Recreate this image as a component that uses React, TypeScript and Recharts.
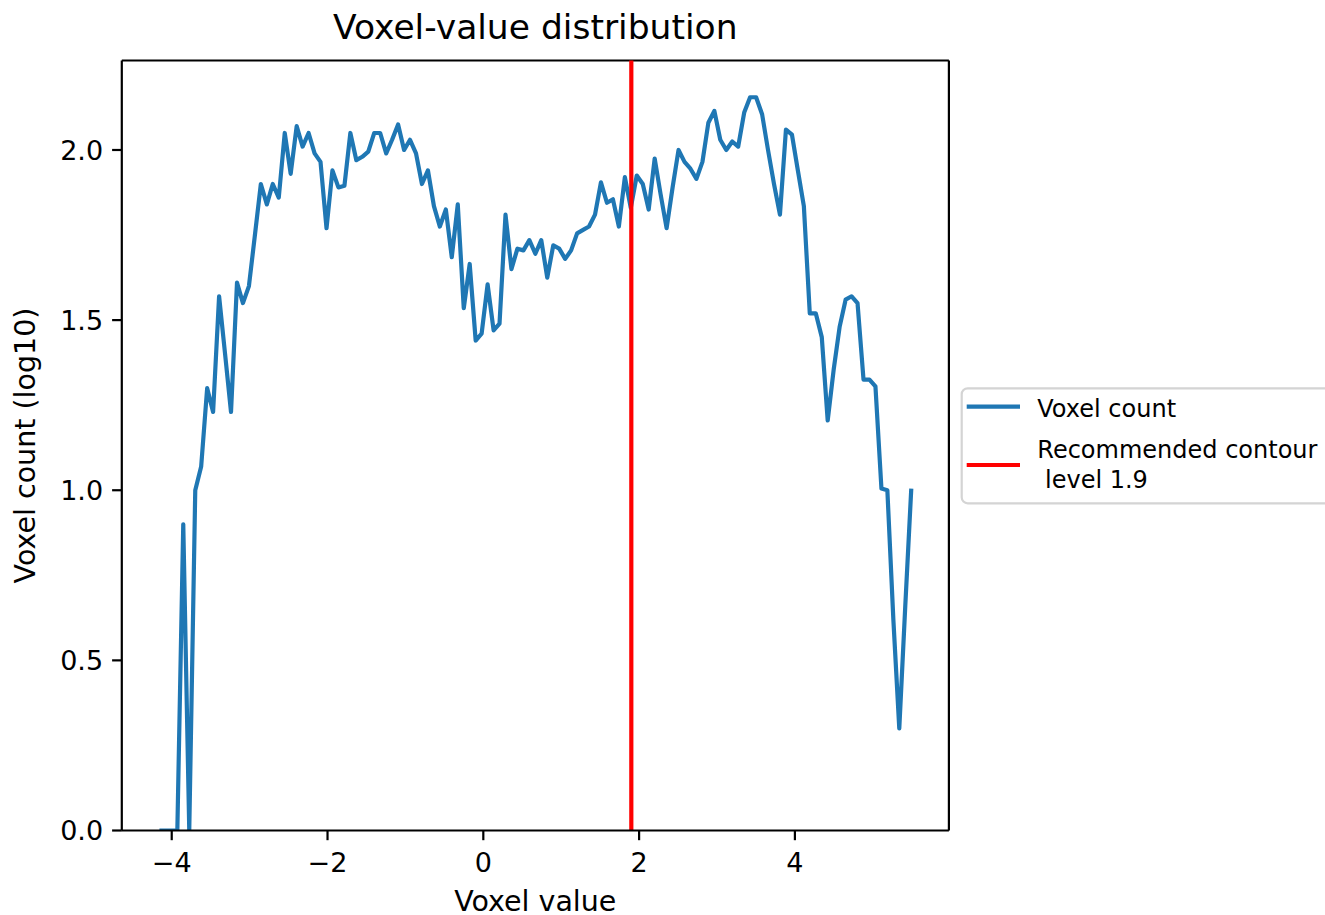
import React from 'react';
import { LineChart, Line, XAxis, YAxis, ReferenceLine } from 'recharts';

// Bin centres (voxel value)
const voxelValues = [
  -4.158, -4.081, -4.005, -3.928, -3.852, -3.775, -3.698, -3.622, -3.545, -3.469,
  -3.392, -3.315, -3.239, -3.162, -3.086, -3.009, -2.932, -2.856, -2.779, -2.703,
  -2.626, -2.549, -2.473, -2.396, -2.320, -2.243, -2.166, -2.090, -2.013, -1.937,
  -1.860, -1.783, -1.707, -1.630, -1.554, -1.477, -1.400, -1.324, -1.247, -1.171,
  -1.094, -1.017, -0.941, -0.864, -0.788, -0.711, -0.634, -0.558, -0.481, -0.405,
  -0.328, -0.251, -0.175, -0.098, -0.022, 0.055, 0.132, 0.208, 0.285, 0.361,
  0.438, 0.515, 0.591, 0.668, 0.744, 0.821, 0.898, 0.974, 1.051, 1.127,
  1.204, 1.281, 1.357, 1.434, 1.510, 1.587, 1.664, 1.740, 1.817, 1.893,
  1.970, 2.047, 2.123, 2.200, 2.276, 2.353, 2.430, 2.506, 2.583, 2.659,
  2.736, 2.813, 2.889, 2.966, 3.042, 3.119, 3.196, 3.272, 3.349, 3.425,
  3.502, 3.579, 3.655, 3.732, 3.808, 3.885, 3.962, 4.038, 4.115, 4.191,
  4.268, 4.345, 4.421, 4.498, 4.574, 4.651, 4.728, 4.804, 4.881, 4.957,
  5.034, 5.111, 5.187, 5.264, 5.340, 5.417, 5.494,
];

// log10 voxel counts
const logCounts = [
  0, 0, 0, 0, 0.9, 0, 1.0, 1.07, 1.3, 1.23,
  1.57, 1.40, 1.23, 1.61, 1.55, 1.60, 1.75, 1.90, 1.84, 1.90,
  1.86, 2.05, 1.93, 2.07, 2.01, 2.05, 1.99, 1.965, 1.77, 1.94,
  1.89, 1.895, 2.05, 1.97, 1.98, 1.995, 2.05, 2.05, 1.99, 2.03,
  2.075, 2.0, 2.03, 1.99, 1.90, 1.94, 1.835, 1.775, 1.825, 1.685,
  1.84, 1.535, 1.665, 1.44, 1.46, 1.605, 1.47, 1.49, 1.81, 1.65,
  1.71, 1.705, 1.735, 1.695, 1.735, 1.625, 1.72, 1.71, 1.68, 1.705,
  1.755, 1.765, 1.775, 1.81, 1.905, 1.845, 1.855, 1.775, 1.92, 1.83,
  1.925, 1.90, 1.825, 1.975, 1.87, 1.77, 1.89, 2.0, 1.965, 1.945,
  1.915, 1.965, 2.08, 2.115, 2.03, 2.0, 2.025, 2.01, 2.11, 2.155,
  2.155, 2.105, 2.0, 1.9, 1.81, 2.06, 2.045, 1.94, 1.835, 1.52,
  1.52, 1.45, 1.205, 1.355, 1.48, 1.56, 1.57, 1.55, 1.325, 1.325,
  1.305, 1.005, 1.0, 0.62, 0.3, 0.66, 1.005,
];

const xTicks = [-4, -2, 0, 2, 4];
const yTicks = [0, 0.5, 1.0, 1.5, 2.0];
const xDomain = [-4.641, 5.977];
const yDomain = [0, 2.263];
const contourLevel = 1.9;

const data = voxelValues.map((x, i) => ({ x, y: logCounts[i] }));

const FONT = "'DejaVu Sans', sans-serif";
const BLUE = '#1f77b4';
const tickStyle = { fill: '#000', fontSize: 27, fontFamily: FONT };
const axisLine = { stroke: '#000', strokeWidth: 2.2 };
const fmtX = (v: number) => (v < 0 ? '\u2212' + Math.abs(v) : String(v));
const fmtY = (v: number) => v.toFixed(1);

export default function App() {
  return (
    <div style={{ position: 'absolute', left: 0, top: 0, width: 1325, height: 915, overflow: 'hidden', background: '#fff' }}>
      <LineChart
        width={1325}
        height={915}
        data={data}
        margin={{ top: 60.5, right: 376.1, bottom: 0, left: 0 }}
      >
        <XAxis
          dataKey="x"
          type="number"
          domain={xDomain}
          allowDataOverflow
          ticks={xTicks}
          tickFormatter={fmtX}
          height={84.5}
          tick={tickStyle}
          tickSize={9.7}
          tickMargin={13}
          tickLine={axisLine}
          axisLine={axisLine}
        />
        <YAxis
          type="number"
          domain={yDomain}
          allowDataOverflow
          ticks={yTicks}
          tickFormatter={fmtY}
          width={121.8}
          tick={tickStyle}
          tickSize={9.7}
          tickMargin={9}
          tickLine={axisLine}
          axisLine={axisLine}
        />
        <ReferenceLine y={yDomain[1]} stroke="#000" strokeWidth={2.2} />
        <ReferenceLine x={xDomain[1]} stroke="#000" strokeWidth={2.2} />
        <Line
          type="linear"
          dataKey="y"
          stroke={BLUE}
          strokeWidth={4.2}
          strokeLinejoin="round"
          dot={false}
          activeDot={false}
          isAnimationActive={false}
        />
        <ReferenceLine x={contourLevel} stroke="#ff0000" strokeWidth={4.2} />
      </LineChart>
      <svg
        width={1325}
        height={915}
        style={{ position: 'absolute', left: 0, top: 0, pointerEvents: 'none' }}
      >
        <text x={535.3} y={39} textAnchor="middle" fontSize={34.5} fontFamily={FONT} fill="#000">
          Voxel-value distribution
        </text>
        <text x={535.3} y={910.5} textAnchor="middle" fontSize={28.5} fontFamily={FONT} fill="#000">
          Voxel value
        </text>
        <text transform="translate(35, 445.5) rotate(-90)" textAnchor="middle" fontSize={28.5} fontFamily={FONT} fill="#000">
          Voxel count (log10)
        </text>
        <rect x={961.7} y={388.3} width={420} height={115} rx={6} ry={6} fill="#fff" stroke="#d4d4d4" strokeWidth={2.2} />
        <line x1={966.7} x2={1020} y1={406.7} y2={406.7} stroke={BLUE} strokeWidth={4.2} />
        <text x={1037.3} y={416.7} fontSize={24} fontFamily={FONT} fill="#000">Voxel count</text>
        <line x1={966.7} x2={1020} y1={465} y2={465} stroke="#ff0000" strokeWidth={4.2} />
        <text x={1037.3} y={458.3} fontSize={24} fontFamily={FONT} fill="#000">Recommended contour</text>
        <text x={1045} y={488.3} fontSize={24} fontFamily={FONT} fill="#000">level 1.9</text>
      </svg>
    </div>
  );
}
